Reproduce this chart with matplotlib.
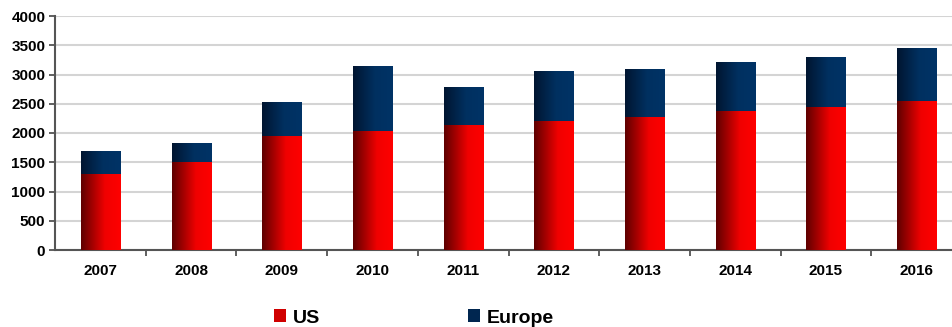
import numpy as np
import matplotlib
matplotlib.use('Agg')
import matplotlib.pyplot as plt
from matplotlib.colors import LinearSegmentedColormap
from matplotlib.patches import Patch

# Data
years = ['2007', '2008', '2009', '2010', '2011', '2012', '2013', '2014', '2015', '2016']
us = [1300, 1500, 1950, 2030, 2140, 2210, 2270, 2380, 2450, 2540]
europe_total = [1700, 1830, 2530, 3140, 2790, 3060, 3090, 3220, 3300, 3460]
europe = [t - u for t, u in zip(europe_total, us)]

plt.rcParams['font.family'] = ['Liberation Sans', 'DejaVu Sans']

red_cmap = LinearSegmentedColormap.from_list('red', [(0, '#5e0000'), (0.6, '#f00000'), (1, '#ff0000')])
blue_cmap = LinearSegmentedColormap.from_list('blue', [(0, '#001530'), (0.55, '#003060'), (1, '#003366')])

fig = plt.figure(figsize=(9.52, 3.27), dpi=100)
ax = fig.add_axes([55 / 952, 77 / 327, 907 / 952, 234 / 327])

x = np.arange(len(years))
width = 0.43
bars_us = ax.bar(x, us, width, color='none', edgecolor='none', zorder=3)
bars_eu = ax.bar(x, europe, width, bottom=us, color='none', edgecolor='none', zorder=3)

# fill each bar with a horizontal gradient, clipped to the bar
grad = np.linspace(0, 1, 256).reshape(1, -1)
for bars, cmap in [(bars_us, red_cmap), (bars_eu, blue_cmap)]:
    for b in bars:
        x0, y0 = b.get_x(), b.get_y()
        im = ax.imshow(grad, cmap=cmap, aspect='auto', zorder=3,
                       extent=[x0, x0 + b.get_width(), y0, y0 + b.get_height()])
        im.set_clip_path(b)
ax.set_xlim(-0.5, len(years) - 0.5)
ax.set_ylim(0, 4000)

ax.set_yticks(range(0, 4001, 500))
ax.set_xticks(x)
ax.set_xticklabels(years, fontweight='bold', fontsize=11)
ax.set_xticks(np.arange(0.5, len(years) - 0.5), minor=True)
ax.tick_params(axis='x', which='major', length=0, pad=10)
ax.tick_params(axis='x', which='minor', length=4, width=1.2, color='#444444')
ax.tick_params(axis='y', length=4, width=1.2, color='#444444', labelsize=11, pad=3)
for lab in ax.get_yticklabels():
    lab.set_fontweight('bold')

ax.grid(axis='y', color='#d4d4d4', linewidth=1.5, zorder=0)
ax.set_axisbelow(True)
for s in ['top', 'right']:
    ax.spines[s].set_visible(False)
for s in ['left', 'bottom']:
    ax.spines[s].set_color('#555555')
    ax.spines[s].set_linewidth(1.5)

handles = [Patch(facecolor='#d00000', label='US'), Patch(facecolor='#002650', label='Europe')]
fig.legend(handles=handles, loc='center', bbox_to_anchor=(414 / 952, 9 / 327), ncol=2,
           frameon=False, prop={'weight': 'bold', 'size': 14}, handlelength=0.6,
           handleheight=0.6, handletextpad=0.35, columnspacing=7.6)

fig.savefig('out.png', dpi=100)
